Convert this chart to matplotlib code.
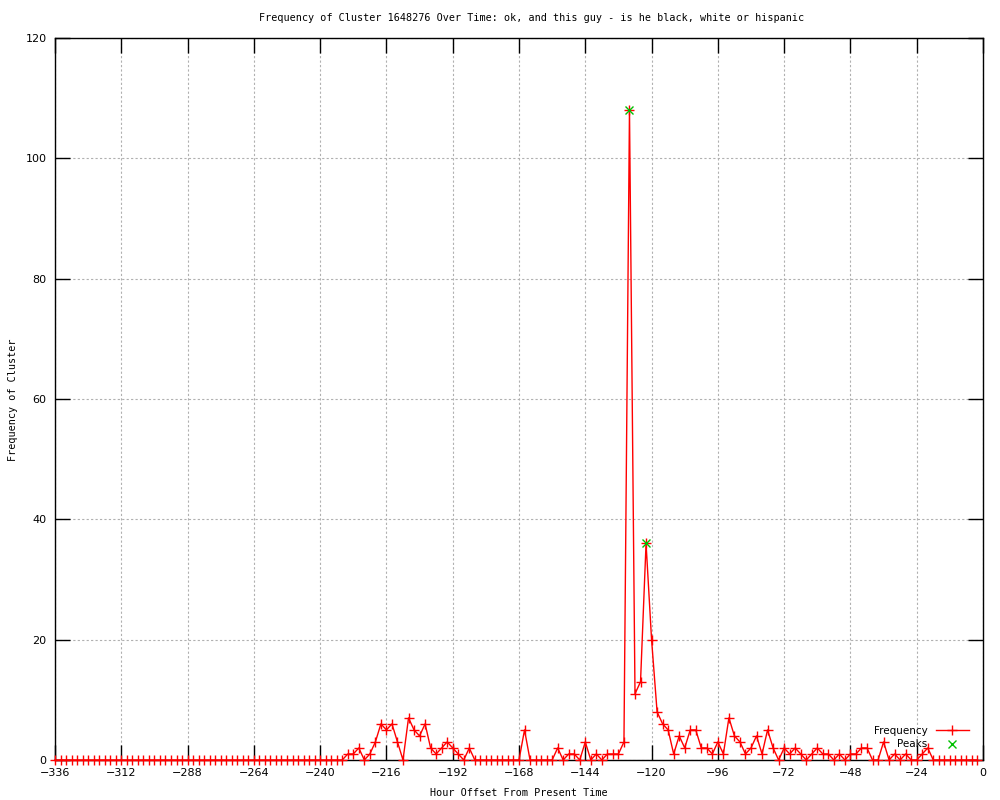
import numpy as np
import matplotlib
matplotlib.use("Agg")
import matplotlib.pyplot as plt

# hourly buckets (every 2 hours) from -336 up to -2
hours = np.arange(-336, 0, 2)

frequency = [
    0, 0, 0, 0, 0, 0, 0, 0, 0, 0,
    0, 0, 0, 0, 0, 0, 0, 0, 0, 0,
    0, 0, 0, 0, 0, 0, 0, 0, 0, 0,
    0, 0, 0, 0, 0, 0, 0, 0, 0, 0,
    0, 0, 0, 0, 0, 0, 0, 0, 0, 0,
    0, 0, 0,                                  # -336 .. -232
    1, 1, 2, 0, 1, 3, 6, 5, 6, 3,             # -230 .. -212
    0, 7, 5, 4, 6, 2, 1, 2, 3, 2,             # -210 .. -192
    1, 0, 2, 0,                               # -190 .. -184
    0, 0, 0, 0, 0, 0, 0, 0,                   # -182 .. -168
    5, 0, 0, 0, 0, 0, 2, 0, 1, 1,             # -166 .. -148
    0, 3, 0, 1, 0, 1, 1, 1, 3, 108,           # -146 .. -128
    11, 13, 36, 20, 8, 6, 5, 1, 4, 2,         # -126 .. -108
    5, 5, 2, 2, 1, 3, 1, 7, 4, 3,             # -106 .. -88
    1, 2, 4, 1, 5, 2, 0, 2, 1, 2,             # -86 .. -68
    1, 0, 1, 2, 1, 1, 0, 1, 0, 1,             # -66 .. -48
    1, 2, 2, 0, 0, 3, 0, 1, 0, 1,             # -46 .. -28
    0, 0, 1, 2,                               # -26 .. -20
    0, 0, 0, 0, 0, 0, 0, 0, 0,                # -18 .. -2
]

peak_hours = [-128, -122]
peak_values = [108, 36]

x_ticks = list(range(-336, 1, 24))
y_ticks = list(range(0, 121, 20))

title = "Frequency of Cluster 1648276 Over Time: ok, and this guy - is he black, white or hispanic"

fig = plt.figure(figsize=(10, 8), dpi=100)
ax = fig.add_axes([0.055, 0.05, 0.928, 0.9025])

ax.plot(hours, frequency, color="#ff0000", lw=1, marker="+", ms=6.5, mew=1,
        label="Frequency", clip_on=False, zorder=3)
ax.plot(peak_hours, peak_values, color="#00c000", lw=0, marker="x", ms=5.5, mew=1,
        label="Peaks", zorder=4)

ax.set_xlim(-336, 0)
ax.set_ylim(0, 120)
ax.set_xticks(x_ticks)
ax.set_yticks(y_ticks)
ax.tick_params(direction="in", length=11, width=1, top=True, right=True,
               labelsize=8, pad=6)
ax.grid(True, color="#b0b0b0", linestyle=(0, (2, 2)), linewidth=0.8)
for s in ax.spines.values():
    s.set_linewidth(1)
    s.set_zorder(2.5)

fig.text(0.5315, 0.977, title, ha="center", va="center",
         family="DejaVu Sans Mono", fontsize=7.3)
fig.text(0.519, 0.009, "Hour Offset From Present Time", ha="center", va="center",
         family="DejaVu Sans Mono", fontsize=7.3)
fig.text(0.013, 0.5, "Frequency of Cluster", ha="center", va="center",
         rotation=90, family="DejaVu Sans Mono", fontsize=7.3)

ax.legend(loc="lower right", bbox_to_anchor=(0.995, 0.002), frameon=False,
          markerfirst=False, handlelength=3.2,
          prop={"family": "DejaVu Sans", "size": 7.5}, labelspacing=0.3)

fig.savefig("out.png", dpi=100)
